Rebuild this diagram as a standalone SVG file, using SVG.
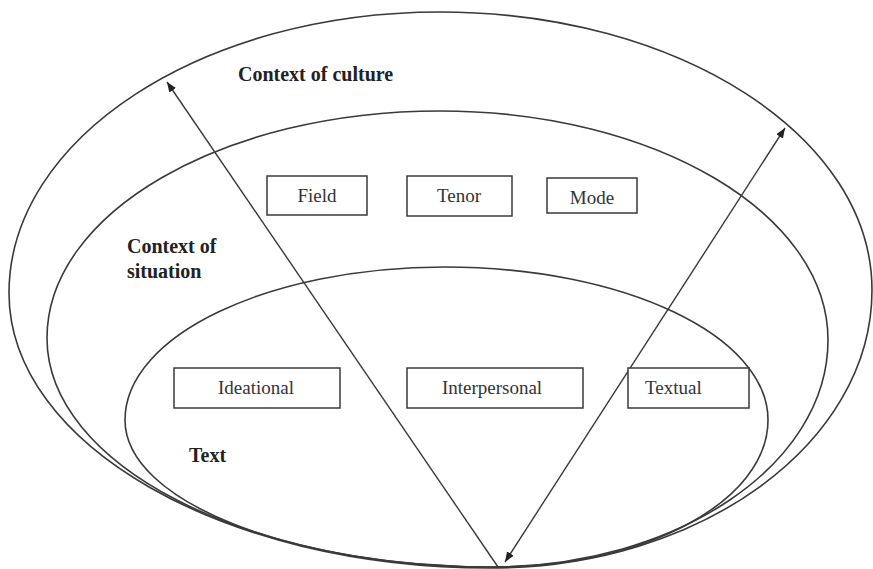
<svg xmlns="http://www.w3.org/2000/svg" width="873" height="569" viewBox="0 0 873 569">
<style>
.shape{fill:none;stroke:#3a3a3a;stroke-width:1.6}
.box{fill:#fff;stroke:#3a3a3a;stroke-width:1.5}
.lbl{font-family:"Liberation Serif","Times New Roman",serif;font-size:19px;fill:#333}
.bold{font-family:"Liberation Serif","Times New Roman",serif;font-size:20px;font-weight:bold;fill:#222}
.arr{fill:none;stroke:#3a3a3a;stroke-width:1.4}
</style>
<defs>
<marker id="ah" viewBox="0 0 10 8" refX="10" refY="4" markerWidth="10" markerHeight="8" markerUnits="userSpaceOnUse" orient="auto-start-reverse">
<path d="M0,0 L10,4 L0,8 Z" fill="#222"/>
</marker>
</defs>
<rect width="873" height="569" fill="#fff"/>
<g id="context-of-culture">
<path class="shape" d="M440,12 C678.6,12 872,136.5 872,290 C872,443.5 701,568 490,568 C224.3,568 9,444.9 9,293 C9,137.8 202,12 440,12 Z"/>
<text class="bold" x="238" y="81">Context of culture</text>
</g>
<g id="context-of-situation">
<path class="shape" d="M440,111 C654.3,111 828,213.5 828,340 C828,465.4 676.7,567 490,567 C245.3,567 47,464.5 47,338 C47,212.6 222.9,111 440,111 Z"/>
<text class="bold" x="127" y="253">Context of</text>
<text class="bold" x="127" y="278">situation</text>
</g>
<g id="text">
<path class="shape" d="M445,267 C623.4,267 768,335.5 768,420 C768,501.2 645.8,567 495,567 C290.7,567 125,501.2 125,420 C125,335.5 268.3,267 445,267 Z"/>
<text class="bold" x="189" y="462">Text</text>
</g>
<g id="connectors">
<line class="arr" x1="498" y1="567" x2="167" y2="82" marker-end="url(#ah)"/>
<line class="arr" x1="505" y1="562" x2="785" y2="128" marker-start="url(#ah)" marker-end="url(#ah)"/>
</g>
<g id="field">
<rect class="box" x="267" y="176" width="100" height="39"/>
<text class="lbl" x="317" y="202" text-anchor="middle">Field</text>
</g>
<g id="tenor">
<rect class="box" x="407" y="176" width="105" height="40"/>
<text class="lbl" x="459" y="202" text-anchor="middle">Tenor</text>
</g>
<g id="mode">
<rect class="box" x="547" y="178" width="90" height="35"/>
<text class="lbl" x="592" y="204" text-anchor="middle">Mode</text>
</g>
<g id="ideational">
<rect class="box" x="174" y="368" width="166" height="40"/>
<text class="lbl" x="256" y="394" text-anchor="middle">Ideational</text>
</g>
<g id="interpersonal">
<rect class="box" x="407" y="368" width="176" height="40"/>
<text class="lbl" x="492" y="394" text-anchor="middle">Interpersonal</text>
</g>
<g id="textual">
<rect class="box" x="628" y="368" width="121" height="40"/>
<text class="lbl" x="645" y="394">Textual</text>
</g>
</svg>
